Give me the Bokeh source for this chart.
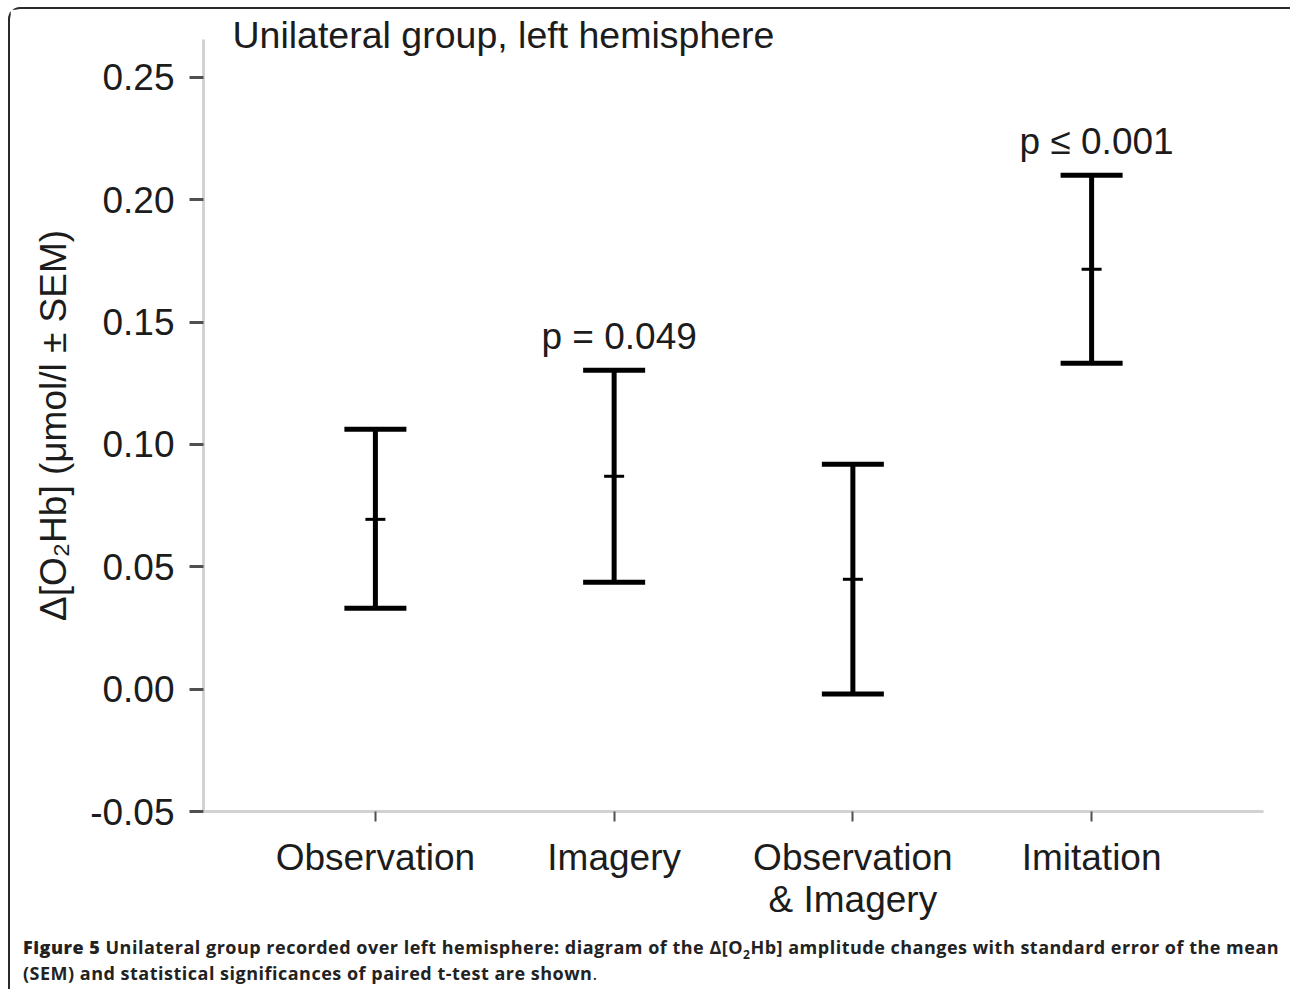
from bokeh.plotting import figure
from bokeh.models import (FactorRange, Range1d, Whisker, ColumnDataSource, TeeHead,
                          FixedTicker, Div, NumeralTickFormatter)
from bokeh.layouts import column
from bokeh.embed import file_html
from bokeh.resources import INLINE
from bokeh.core.properties import value

# ---- data ----
categories = ["Observation", "Imagery", "Observation\n& Imagery", "Imitation"]
means = [0.0694, 0.0870, 0.0449, 0.1716]
upper = [0.1062, 0.1303, 0.0919, 0.2100]
lower = [0.0331, 0.0437, -0.0020, 0.1332]
p_labels = ["", "p = 0.049", "", "p \u2264 0.001"]
y_ticks = [-0.05, 0.00, 0.05, 0.10, 0.15, 0.20, 0.25]

FONT = "Liberation Sans"
TXT = "#1c1c1c"
FS = "37px"

src = ColumnDataSource(dict(cat=categories, mean=means, upper=upper, lower=lower, plabel=p_labels))

p = figure(x_range=FactorRange(factors=categories, range_padding=0.11),
           y_range=Range1d(-0.05, 0.2655),
           frame_width=1060, frame_height=772,
           min_border_left=193, min_border_right=20, min_border_top=30, min_border_bottom=100,
           output_backend="svg", toolbar_location=None,
           background_fill_color="white", border_fill_color="white", outline_line_color=None)

p.title.text = "Unilateral group, left hemisphere"
p.title.text_font = FONT
p.title.text_font_size = "37.5px"
p.title.text_font_style = "normal"
p.title.text_color = TXT
p.title.align = "left"
p.title.offset = 29
p.title.standoff = -32

p.xgrid.visible = False
p.ygrid.visible = False

# y axis
ya = p.yaxis[0]
ya.ticker = FixedTicker(ticks=y_ticks)
ya.formatter = NumeralTickFormatter(format="0.00")
ya.minor_tick_line_color = None
ya.axis_line_color = "#d2d2d2"
ya.axis_line_width = 3
ya.major_tick_in = 0
ya.major_tick_out = 14
ya.major_tick_line_color = "#505050"
ya.major_tick_line_width = 3
ya.major_label_text_font = FONT
ya.major_label_text_font_size = FS
ya.major_label_text_color = TXT
ya.major_label_standoff = 15
ya.axis_label = "\u0394[O\u2082Hb] (\u03bcmol/l \u00b1 SEM)"
ya.axis_label_text_font = FONT
ya.axis_label_text_font_size = "37px"
ya.axis_label_text_font_style = "normal"
ya.axis_label_text_color = TXT
ya.axis_label_standoff = 13

# x axis
xa = p.xaxis[0]
xa.axis_line_color = "#d2d2d2"
xa.axis_line_width = 3
xa.major_tick_in = 0
xa.major_tick_out = 10
xa.major_tick_line_color = "#505050"
xa.major_tick_line_width = 2
xa.major_label_text_font = FONT
xa.major_label_text_font_size = FS
xa.major_label_text_color = TXT
xa.major_label_text_line_height = 1.03
xa.major_label_standoff = 15

# error bars
head = dict(size=62, line_width=5, line_color="black")
w = Whisker(base="cat", upper="upper", lower="lower", source=src,
            line_width=5, line_color="black",
            upper_head=TeeHead(**head), lower_head=TeeHead(**head))
p.add_layout(w)

p.scatter(x="cat", y="mean", source=src, marker="dash", size=20,
          line_width=3, line_color="black")

p.text(x="cat", y="upper", text="plabel", source=src, text_align="center",
       text_baseline="alphabetic", y_offset=-34, x_offset=5,
       text_font=value(FONT), text_font_size=FS, text_color=TXT)

caption = Div(
    text=('<div style="padding:7px 0 0 8px; font-family:\'Open Sans\'; font-size:18px; '
          'letter-spacing:0.5px; font-variant-ligatures:none; '
          'line-height:26px; font-weight:700; color:#222; white-space:nowrap;">'
          '<span style="font-weight:800">Figure 5</span> Unilateral group recorded over left hemisphere: '
          'diagram of the \u0394[O<sub style="font-size:12px;line-height:0">2</sub>Hb] amplitude changes with standard error of the mean<br>'
          '(SEM) and statistical significances of paired t-test are shown'
          '<span style="font-weight:400">.</span></div>'),
    width=1270, height=62)

layout = column(p, caption,
                styles={"border-top": "2px solid #2a2a2a", "border-left": "2px solid #2a2a2a",
                        "border-top-left-radius": "12px", "margin": "7px 0 0 8px"})

open("out.html", "w").write(file_html(layout, INLINE))
